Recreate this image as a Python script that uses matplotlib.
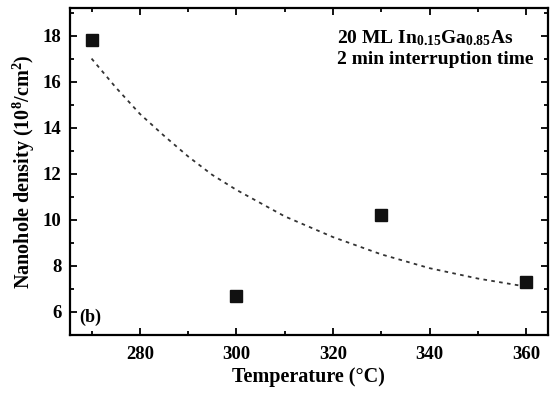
import matplotlib
matplotlib.use("Agg")
import matplotlib.pyplot as plt
from matplotlib.ticker import MultipleLocator

plt.rcParams['font.family'] = ['Liberation Serif', 'DejaVu Serif']
plt.rcParams['font.weight'] = 'bold'
plt.rcParams['mathtext.fontset'] = 'custom'
plt.rcParams['mathtext.rm'] = 'Liberation Serif:bold'
plt.rcParams['mathtext.it'] = 'Liberation Serif:bold'
plt.rcParams['mathtext.bf'] = 'Liberation Serif:bold'

# Measured data
temperature = [270, 300, 330, 360]
density = [17.8, 6.7, 10.2, 7.3]

# Fitted (dashed) curve
fit_temperature = [270, 275, 280, 285, 290, 295, 300, 310, 320, 330, 340, 350, 360]
fit_density = [17.0, 15.75, 14.6, 13.65, 12.75, 11.95, 11.3, 10.15, 9.25, 8.5, 7.9, 7.45, 7.1]

xticks = [280, 300, 320, 340, 360]
yticks = [6, 8, 10, 12, 14, 16, 18]

fig = plt.figure(figsize=(5.5, 3.95), dpi=100)
ax = fig.add_axes([0.127, 0.152, 0.869, 0.828])

ax.plot(fit_temperature, fit_density, linestyle=(0, (2, 2.4)), color='#333333', linewidth=1.3)
ax.plot(temperature, density, linestyle='none', marker='s', markersize=8, color='#111111')

ax.set_xlim(265.5, 364.5)
ax.set_ylim(5.0, 19.2)
ax.set_xticks(xticks)
ax.set_yticks(yticks)
ax.xaxis.set_minor_locator(MultipleLocator(10))
ax.yaxis.set_minor_locator(MultipleLocator(1))

ax.tick_params(which='both', direction='in', top=True, right=True, width=1.3, labelsize=13.5)
ax.tick_params(which='major', length=5)
ax.tick_params(which='minor', length=3)
ax.tick_params(axis='x', pad=8)
ax.tick_params(axis='y', pad=6)
for lbl in ax.get_xticklabels() + ax.get_yticklabels():
    lbl.set_fontweight('bold')
for s in ax.spines.values():
    s.set_linewidth(1.6)

ax.set_xlabel('Temperature (°C)', fontsize=14.5, fontweight='bold', labelpad=3)
ax.set_ylabel(r'Nanohole density (10$^{8}$/cm$^{2}$)', fontsize=14.5, fontweight='bold', labelpad=4)

ax.text(0.559, 0.908, r'20 ML In$_{0.15}$Ga$_{0.85}$As', transform=ax.transAxes,
        fontsize=14, fontweight='bold', va='center', ha='left')
ax.text(0.559, 0.841, '2 min interruption time', transform=ax.transAxes,
        fontsize=14, fontweight='bold', va='center', ha='left')
ax.text(0.02, 0.055, '(b)', transform=ax.transAxes, fontsize=13, fontweight='bold',
        va='center', ha='left')

fig.savefig('out.png', dpi=100)
